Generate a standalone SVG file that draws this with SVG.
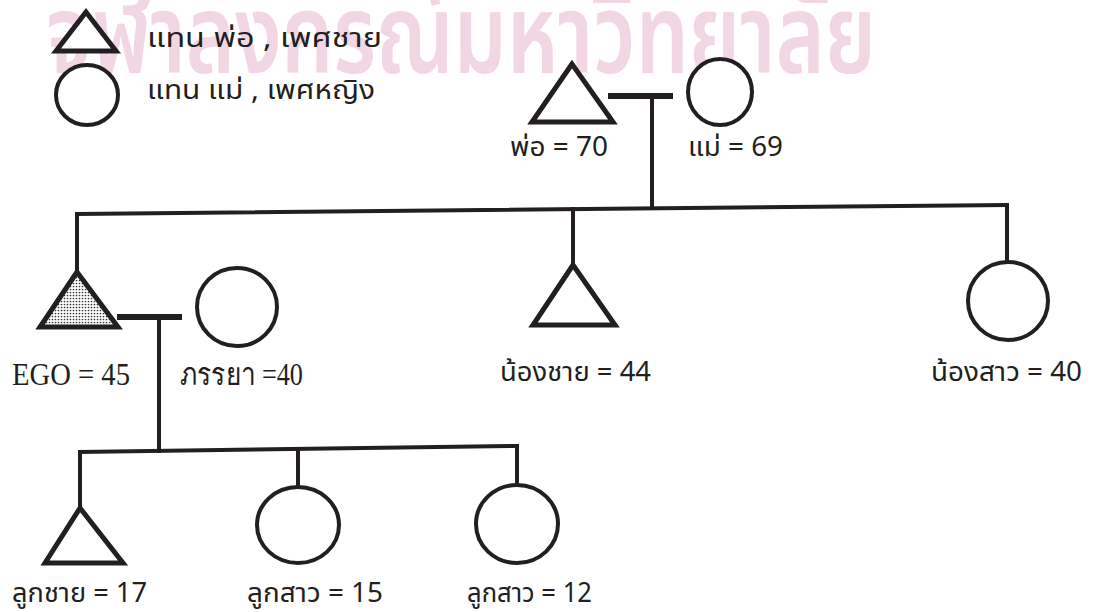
<svg xmlns="http://www.w3.org/2000/svg" width="1098" height="612" viewBox="0 0 1098 612">
<style>
.ln{stroke:#231f20;stroke-width:4;fill:none;stroke-linecap:square}
.mar{stroke:#231f20;stroke-width:6;fill:none}
.tri{fill:#fff;stroke:#231f20;stroke-width:5;stroke-linejoin:miter}
.cir{fill:#fff;stroke:#231f20;stroke-width:4}
.th{font-family:"Noto Sans Thai","Noto Sans","DejaVu Sans",sans-serif;font-size:27px;fill:#231f20}
.sf{font-family:"Liberation Serif",serif;font-size:31px;fill:#231f20}
.wm{font-family:"Noto Sans Thai","Noto Sans","DejaVu Sans",sans-serif;font-size:110px;font-weight:600;fill:#f3d6e4}
</style>
<defs>
<pattern id="dots" width="3" height="3" patternUnits="userSpaceOnUse">
<rect width="3" height="3" fill="#fff"/>
<circle cx="1.5" cy="1.5" r="0.85" fill="#333"/>
</pattern>
</defs>
<rect width="1098" height="612" fill="#fff"/>
<text class="wm" x="46" y="73" textLength="830" lengthAdjust="spacingAndGlyphs">จุฬาลงกรณ์มหาวิทยาลัย</text>

<g id="legend">
<polygon class="tri" points="86,12 56,51 116,51"/>
<text class="th" x="147" y="47" textLength="235" lengthAdjust="spacingAndGlyphs">แทน  พ่อ , เพศชาย</text>
<ellipse class="cir" cx="87" cy="95" rx="31" ry="30"/>
<text class="th" x="147" y="99" textLength="228" lengthAdjust="spacingAndGlyphs">แทน  แม่ , เพศหญิง</text>
</g>

<g id="connectors">
<line class="mar" x1="608" y1="96" x2="673" y2="96"/>
<line class="ln" x1="652" y1="96" x2="652" y2="208"/>
<line class="ln" x1="77" y1="214" x2="1007" y2="205"/>
<line class="ln" x1="77" y1="214" x2="77" y2="272"/>
<line class="ln" x1="573" y1="209" x2="573" y2="265"/>
<line class="ln" x1="1007" y1="205" x2="1007" y2="262"/>
<line class="mar" x1="117" y1="317" x2="182" y2="317"/>
<line class="ln" x1="159" y1="317" x2="159" y2="451"/>
<line class="ln" x1="80" y1="452" x2="517" y2="446"/>
<line class="ln" x1="80" y1="452" x2="80" y2="508"/>
<line class="ln" x1="298" y1="449" x2="298" y2="487"/>
<line class="ln" x1="517" y1="446" x2="517" y2="485"/>
</g>

<g id="father">
<polygon class="tri" points="572,64 532,122 613,122"/>
<text class="th" x="510" y="156" textLength="98" lengthAdjust="spacingAndGlyphs">พ่อ = 70</text>
</g>
<g id="mother">
<ellipse class="cir" cx="720" cy="92" rx="32" ry="33"/>
<text class="th" x="688" y="156" textLength="95" lengthAdjust="spacingAndGlyphs">แม่ = 69</text>
</g>

<g id="ego">
<polygon class="tri" style="fill:url(#dots)" points="77,272 40,327 118,327"/>
<text class="sf" x="12" y="385" textLength="118" lengthAdjust="spacingAndGlyphs">EGO = 45</text>
</g>
<g id="wife">
<ellipse class="cir" cx="237" cy="307" rx="40" ry="39"/>
<text class="sf" x="180" y="385" textLength="123" lengthAdjust="spacingAndGlyphs">ภรรยา =40</text>
</g>
<g id="brother">
<polygon class="tri" points="573,265 533,325 615,325"/>
<text class="th" x="500" y="381" textLength="151" lengthAdjust="spacingAndGlyphs">น้องชาย = 44</text>
</g>
<g id="sister">
<ellipse class="cir" cx="1008" cy="301" rx="40" ry="39"/>
<text class="th" x="931" y="381" textLength="151" lengthAdjust="spacingAndGlyphs">น้องสาว = 40</text>
</g>

<g id="son">
<polygon class="tri" points="80,508 45,563 123,563"/>
<text class="th" x="12" y="602" textLength="135" lengthAdjust="spacingAndGlyphs">ลูกชาย = 17</text>
</g>
<g id="daughter1">
<ellipse class="cir" cx="298" cy="525" rx="41" ry="38"/>
<text class="th" x="247" y="602" textLength="136" lengthAdjust="spacingAndGlyphs">ลูกสาว = 15</text>
</g>
<g id="daughter2">
<ellipse class="cir" cx="517" cy="524" rx="41" ry="39"/>
<text class="th" x="467" y="602" textLength="125" lengthAdjust="spacingAndGlyphs">ลูกสาว = 12</text>
</g>
</svg>
